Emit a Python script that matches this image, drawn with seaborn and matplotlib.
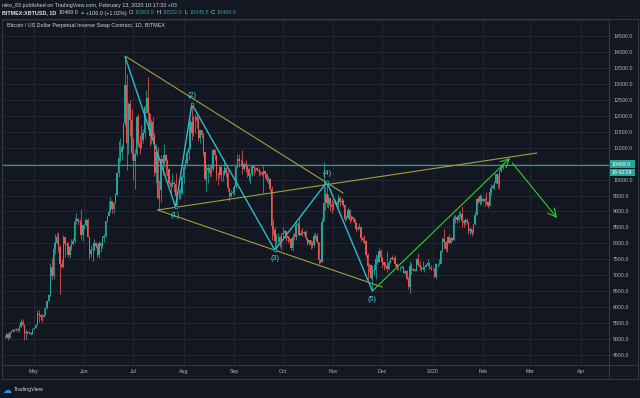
import matplotlib
matplotlib.use("Agg")
import matplotlib.pyplot as plt
import matplotlib.dates as mdates
from matplotlib.lines import Line2D
from matplotlib.patches import Rectangle
import numpy as np
import pandas as pd
import seaborn as sns

# ---------------- data (daily candles, BITMEX:XBTUSD) ----------------
start_date = "2019-04-13"
first_open = 5060

apr_close = [5070, 5150, 5030, 5210, 5240, 5290, 5280, 5320, 5280, 5390, 5550, 5440, 5200, 5230, 5210, 5190, 5160, 5300]
apr_high = [5120, 5180, 5200, 5230, 5290, 5330, 5330, 5350, 5340, 5440, 5620, 5640, 5480, 5330, 5260, 5240, 5210, 5330]
apr_low = [5040, 5040, 4980, 5020, 5200, 5230, 5210, 5260, 5220, 5250, 5380, 5400, 4980, 5000, 5160, 5150, 5120, 5150]

may_close = [5350, 5450, 5800, 5750, 5700, 5680, 5770, 5960, 6180, 6370, 7260, 6980, 7830, 8000, 8200, 7880, 7360, 7260, 8190, 7990, 7950, 7640, 7880, 7990, 8060, 8680, 8770, 8710, 8660, 8270, 8560]
may_high = [5390, 5480, 5920, 5900, 5790, 5790, 5970, 6000, 6190, 6420, 7380, 7550, 8050, 8300, 8310, 8350, 7940, 7500, 8250, 8150, 8050, 8030, 7950, 8150, 8160, 8780, 8950, 8800, 8770, 9080, 8580]
may_low = [5310, 5340, 5430, 5550, 5610, 5540, 5680, 5740, 5950, 6150, 6350, 6850, 6890, 7660, 7980, 7730, 6400, 7220, 7270, 7580, 7780, 7580, 7550, 7800, 7950, 8010, 8610, 8560, 8430, 8120, 8080]

jun_close = [8560, 8740, 8200, 7680, 7800, 7800, 8000, 7930, 7630, 8020, 7920, 8170, 8230, 8690, 8850, 8980, 9320, 9080, 9270, 9530, 10200, 10690, 10850, 11010, 11760, 12950, 11150, 12380, 11880, 10820]
jun_high = [8620, 8800, 8800, 8230, 7950, 7860, 8150, 8050, 7970, 8060, 8050, 8220, 8300, 8700, 8870, 9340, 9450, 9340, 9310, 9580, 10230, 11200, 11300, 11100, 11780, 13880, 13300, 12420, 12480, 12200]
jun_low = [8460, 8550, 8190, 7520, 7580, 7450, 7760, 7840, 7560, 7540, 7730, 7850, 8050, 8200, 8660, 8880, 8980, 8950, 8950, 9260, 9520, 10080, 10550, 10620, 10950, 11670, 10300, 10800, 11350, 10600]

jul_close = [10580, 10810, 11970, 11150, 10980, 11230, 11470, 12290, 12570, 12100, 11350, 11800, 11380, 10200, 10850, 9430, 9680, 10630, 10530, 10760, 10590, 10330, 9900, 9780, 9880, 9850, 9480, 9530, 9510, 9590, 10090]
jul_high = [11300, 10950, 12000, 12050, 11400, 11700, 11600, 12340, 12800, 13200, 12100, 11900, 11950, 11450, 11100, 11030, 9980, 10780, 10750, 11100, 10800, 10650, 10360, 9950, 10200, 9950, 10190, 9630, 9710, 9740, 10130]
jul_low = [10000, 9700, 10750, 11050, 10800, 10980, 11150, 11300, 12100, 11600, 11050, 11100, 11100, 10100, 9900, 9380, 9060, 9300, 10150, 10400, 10150, 10100, 9850, 9500, 9780, 9620, 9150, 9200, 9400, 9400, 9550]

aug_close = [10400, 10530, 10820, 10980, 11800, 11460, 11950, 11960, 11850, 11290, 11540, 11390, 10860, 10020, 10300, 10360, 10220, 10320, 10920, 10760, 10140, 10130, 10400, 10140, 10150, 10360, 10200, 9720, 9490, 9590, 9600]
aug_high = [10480, 10650, 10930, 11080, 11900, 12330, 12000, 12050, 12020, 11950, 11580, 11550, 11450, 10860, 10450, 10500, 10480, 10500, 10950, 10950, 10760, 10240, 10450, 10450, 10300, 10630, 10380, 10290, 9720, 9660, 9680]
aug_low = [9880, 10330, 10500, 10600, 10950, 11230, 11350, 11470, 11610, 11200, 11150, 11300, 10750, 10000, 9630, 9900, 10080, 10100, 10280, 10600, 9980, 9820, 10050, 9950, 9950, 10150, 10070, 9650, 9320, 9440, 9540]

sep_close = [9760, 10390, 10630, 10590, 10580, 10320, 10480, 10400, 10330, 10110, 10160, 10420, 10360, 10370, 10310, 10260, 10190, 10160, 10270, 10180, 9990, 10030, 9690, 8530, 8430, 8060, 8190, 8200, 8050, 8300]
sep_high = [9830, 10470, 10800, 10800, 10650, 10920, 10550, 10600, 10480, 10380, 10200, 10450, 10450, 10400, 10380, 10360, 10270, 10280, 10460, 10300, 10200, 10100, 10060, 9800, 8750, 8500, 8300, 8340, 8230, 8340]
sep_low = [9520, 9750, 10350, 10400, 10450, 10160, 10300, 10250, 10070, 9950, 9860, 10100, 10150, 10250, 10270, 10110, 10140, 10100, 9580, 10050, 9920, 9880, 9650, 8100, 8250, 7800, 7860, 8020, 7900, 7780]

oct_close = [8340, 8390, 8240, 8160, 8150, 7870, 8210, 8190, 8590, 8590, 8270, 8330, 8310, 8370, 8160, 8000, 8090, 7960, 7950, 8230, 8220, 8030, 7470, 7430, 8670, 9260, 9550, 9250, 9430, 9190, 9150]
oct_high = [8520, 8410, 8400, 8240, 8210, 8180, 8310, 8340, 8660, 8660, 8800, 8420, 8470, 8400, 8420, 8160, 8120, 8120, 8080, 8310, 8330, 8320, 8050, 7500, 8800, 10540, 9800, 9950, 9550, 9430, 9400]
oct_low = [8200, 8180, 8080, 8000, 8060, 7800, 7760, 8100, 8100, 8470, 8220, 8250, 8220, 8250, 8120, 7960, 7940, 7820, 7850, 7880, 8150, 8000, 7350, 7380, 7420, 8700, 9060, 9150, 9100, 9030, 8950]

nov_close = [9250, 9300, 9200, 9410, 9310, 9340, 9200, 8770, 8810, 9040, 8720, 8820, 8760, 8630, 8460, 8490, 8500, 8170, 8120, 8080, 7620, 7290, 7320, 6910, 7120, 7160, 7520, 7430, 7760, 7560]
nov_high = [9290, 9380, 9370, 9550, 9480, 9420, 9380, 9230, 8880, 9140, 9080, 8880, 8850, 8790, 8680, 8550, 8640, 8520, 8200, 8250, 8100, 7700, 7370, 7340, 7320, 7350, 7660, 7620, 7860, 7820]
nov_low = [9040, 9220, 9120, 9110, 9170, 9240, 9140, 8700, 8720, 8800, 8640, 8690, 8690, 8570, 8370, 8420, 8450, 8080, 8020, 8000, 7580, 6850, 7100, 6880, 6510, 7000, 6870, 7360, 7420, 7450]

dec_close = [7420, 7320, 7300, 7200, 7400, 7540, 7510, 7530, 7350, 7230, 7220, 7240, 7270, 7080, 7120, 6890, 6620, 7280, 7150, 7190, 7140, 7520, 7320, 7250, 7200, 7200, 7250, 7320, 7390, 7230, 7190]
dec_high = [7580, 7430, 7420, 7750, 7480, 7580, 7630, 7580, 7620, 7400, 7270, 7300, 7330, 7300, 7180, 7150, 6950, 7440, 7390, 7220, 7200, 7550, 7690, 7440, 7280, 7440, 7280, 7370, 7510, 7420, 7320]
dec_low = [7250, 7180, 7250, 7100, 7180, 7370, 7470, 7440, 7300, 7170, 7170, 7120, 7220, 7060, 7030, 6860, 6560, 6450, 7050, 7120, 7120, 7130, 7280, 7150, 7120, 7160, 7100, 7260, 7290, 7200, 7150]

jan_close = [7200, 6960, 7340, 7350, 7350, 7760, 8150, 8050, 7820, 8190, 8020, 8180, 8110, 8810, 8820, 8720, 8900, 8910, 8700, 8630, 8740, 8660, 8390, 8440, 8340, 8600, 8900, 9390, 9290, 9500, 9340]
jan_high = [7250, 7210, 7400, 7400, 7500, 7800, 8200, 8460, 8060, 8200, 8280, 8190, 8190, 8890, 8900, 8850, 9000, 9000, 9180, 8680, 8780, 8790, 8670, 8520, 8450, 8620, 8980, 9420, 9440, 9560, 9520]
jan_low = [7170, 6930, 6870, 7260, 7330, 7340, 7730, 7850, 7770, 7730, 7980, 8000, 8070, 8100, 8640, 8640, 8680, 8810, 8500, 8520, 8570, 8620, 8300, 8270, 8230, 8300, 8580, 8880, 9230, 9200, 9240]

feb_close = [9380, 9340, 9290, 9180, 9610, 9730, 9800, 9900, 10160, 9850, 10270, 10363, 10469]
feb_high = [9430, 9460, 9600, 9340, 9740, 9850, 9860, 9950, 10180, 10170, 10300, 10490, 10532]
feb_low = [9310, 9180, 9230, 9120, 9160, 9530, 9700, 9710, 9880, 9730, 9700, 10240, 10345.5]

# Elliott wave pivots and drawn trend lines
wave_dates = ["2019-06-26", "2019-07-27", "2019-08-06", "2019-09-26", "2019-10-28", "2019-11-25"]
wave_prices = [13842, 9139, 12368, 7790, 9923, 6506]
wave_labels = ["", "(1)", "(2)", "(3)", "(4)", "(5)"]
wave_label_side = [0, -1, 1, -1, 1, -1]

yellow_lines = [
    (("2019-06-26", 13873), ("2019-11-07", 9578)),
    (("2019-07-16", 9045), ("2019-12-01", 6632)),
    (("2019-07-16", 9045), ("2020-03-05", 10832)),
]
green_arrows = [
    (("2019-11-25", 6506), ("2020-02-17 14:00", 10676)),
    (("2020-02-19", 10519), ("2020-03-17 12:00", 8795)),
]
last_price = 10469.0
month_ticks = ["2019-05-01", "2019-06-01", "2019-07-01", "2019-08-01", "2019-09-01", "2019-10-01",
               "2019-11-01", "2019-12-01", "2020-01-01", "2020-02-01", "2020-03-01", "2020-04-01"]
month_labels = ["May", "Jun", "Jul", "Aug", "Sep", "Oct", "Nov", "Dec", "2020", "Feb", "Mar", "Apr"]
price_ticks = list(range(4500, 15001, 500))

# ---------------- assemble ----------------
closes = apr_close + may_close + jun_close + jul_close + aug_close + sep_close + oct_close + nov_close + dec_close + jan_close + feb_close
highs = apr_high + may_high + jun_high + jul_high + aug_high + sep_high + oct_high + nov_high + dec_high + jan_high + feb_high
lows = apr_low + may_low + jun_low + jul_low + aug_low + sep_low + oct_low + nov_low + dec_low + jan_low + feb_low
assert len(closes) == len(highs) == len(lows)
opens = [first_open] + closes[:-1]
dates = pd.date_range(start_date, periods=len(closes), freq="D")
df = pd.DataFrame(dict(date=dates, open=opens, high=highs, low=lows, close=closes))
df["x"] = mdates.date2num(df["date"])
df["up"] = df["close"] >= df["open"]

def dn(s):
    return mdates.date2num(pd.Timestamp(s))

# ---------------- style ----------------
BG = "#131722"
GRID = "#232733"
FRAME = "#363a45"
TXT = "#b2b5be"
UP = "#26a69a"
DOWN = "#ef5350"
CYAN = "#2bbdcc"
YEL = "#a39f3a"
GRN = "#2fcf2f"

sns.set_theme(style="dark", rc={
    "axes.facecolor": BG, "figure.facecolor": BG, "savefig.facecolor": BG,
    "axes.edgecolor": BG, "grid.color": GRID, "text.color": TXT,
    "xtick.color": TXT, "ytick.color": TXT,
})
plt.rcParams["font.family"] = ["Liberation Sans", "DejaVu Sans"]

W, H = 640, 398
fig = plt.figure(figsize=(6.4, 3.98), dpi=100)

def fx(px):
    return px / W

def fy(py):
    return 1 - py / H

ax = fig.add_axes([fx(2), fy(365), fx(609) - fx(2), fy(19) - fy(365)])
ax.set_facecolor(BG)

# limits from the reference's scale (May 1 at x=34 px, 1.627 px/day)
x0 = dn("2019-05-01")
ax.set_xlim(x0 - 19.67, x0 + 353.4)
ax.set_ylim(4187, 15033)

ax.set_xticks([dn(d) for d in month_ticks])
ax.set_xticklabels(month_labels)
ax.set_yticks(price_ticks)
ax.set_yticklabels(["%.1f" % p if p < 15000 else "" for p in price_ticks])
ax.yaxis.tick_right()
ax.tick_params(axis="x", length=0, pad=3.2, labelsize=3.8, colors=TXT)
ax.tick_params(axis="y", length=0, pad=3.0, labelsize=3.8, colors=TXT)
ax.grid(True, color=GRID, lw=0.7)
ax.set_axisbelow(True)
for s in ax.spines.values():
    s.set_visible(False)

# last-price line
ax.axhline(last_price, color="#1e9e90", lw=0.9, zorder=2)

# candles
for up, color in [(True, UP), (False, DOWN)]:
    d = df[df["up"] == up]
    ax.vlines(d["x"], d["low"], d["high"], color=color, lw=0.55, zorder=3)
    body = (d["close"] - d["open"]).abs().clip(lower=15)
    ax.bar(d["x"], body, bottom=d[["open", "close"]].min(axis=1), width=0.88,
           color=color, edgecolor=color, lw=0, zorder=4)

# yellow trend lines
for (a, b) in yellow_lines:
    sns.lineplot(x=[dn(a[0]), dn(b[0])], y=[a[1], b[1]], ax=ax, color=YEL, lw=0.8, zorder=5)

# wave lines
wx = [dn(d) for d in wave_dates]
sns.lineplot(x=wx, y=wave_prices, sort=False, ax=ax, color=CYAN, lw=1.0, zorder=6)
ax.scatter(wx[1:5], wave_prices[1:5], s=4, facecolors=BG, edgecolors=CYAN, lw=0.5, zorder=7)
for xv, yv, lab, side in zip(wx, wave_prices, wave_labels, wave_label_side):
    if lab:
        ax.annotate(lab, (xv, yv), xytext=(0, 6.0 * side), textcoords="offset points",
                    ha="center", va="center", fontsize=5.2, color="#58cfe0", zorder=8)

# green arrows
for (a, b) in green_arrows:
    ax.annotate("", xy=(dn(b[0]), b[1]), xytext=(dn(a[0]), a[1]),
                arrowprops=dict(arrowstyle="->,head_length=0.5,head_width=0.25",
                                color=GRN, lw=0.8, shrinkA=0, shrinkB=0), zorder=8)

# ---------------- frame ----------------
def fline(xs, ys, color=FRAME, lw=0.7):
    fig.add_artist(Line2D([fx(v) for v in xs], [fy(v) for v in ys], color=color, lw=lw))

fline([2, 638], [19, 19])
fline([2, 638], [379, 379])
fline([2, 2], [19, 379])
fline([638, 638], [19, 379])
fline([2, 638], [365, 365])
fline([609, 609], [19, 379])

# price label boxes
renderer = fig.canvas.get_renderer()
fig.add_artist(Rectangle((fx(610), fy(168)), fx(635) - fx(610), fy(160.5) - fy(168),
                         facecolor=UP, edgecolor="none"))
fig.add_artist(Rectangle((fx(610), fy(176)), fx(635) - fx(610), fy(168.7) - fy(176),
                         facecolor=UP, edgecolor="none"))
fig.text(fx(612), fy(164.3), "%.1f" % last_price, fontsize=3.8, color="white", va="center")
fig.text(fx(612), fy(172.4), "16:42:29", fontsize=3.8, color="white", va="center")

# title
fig.text(fx(7), fy(26), "Bitcoin / US Dollar Perpetual Inverse Swap Contract, 1D, BITMEX",
         fontsize=3.9, color="#d1d4dc", va="center")

# header (each piece followed by a gap in px)
def pieces(x, y, items, size=3.9):
    for s, c, w, gap in items:
        t = fig.text(fx(x), fy(y), s, fontsize=size, color=c, va="center", fontweight=w)
        x += t.get_window_extent(renderer).width + gap

pieces(2, 5, [("niko_83 published on TradingView.com, February 13, 2020 10:17:33 +03", "#d1d4dc", "normal", 0)])
LT = "#d1d4dc"
pieces(2, 13, [
    ("BITMEX:XBTUSD, 1D", "#e0e3eb", "bold", 2.5),
    ("10469.0", LT, "normal", 1.2),
    ("▲", UP, "normal", 1.2),
    ("+106.0 (+1.02%)", LT, "normal", 1.6),
    ("O:", LT, "normal", 0.8), ("10363.0", UP, "normal", 1.6),
    ("H:", LT, "normal", 0.8), ("10532.0", UP, "normal", 1.6),
    ("L:", LT, "normal", 0.8), ("10345.5", UP, "normal", 1.6),
    ("C:", LT, "normal", 0.8), ("10469.0", UP, "normal", 0),
])

# TradingView footer
fig.text(fx(3), fy(390.5), "☁", fontsize=6.5, color="#2196f3", va="center", family="DejaVu Sans")
fig.text(fx(13.5), fy(390), "TradingView", fontsize=3.9, color="#d1d4dc", va="center")

fig.savefig("out.png", dpi=100)
